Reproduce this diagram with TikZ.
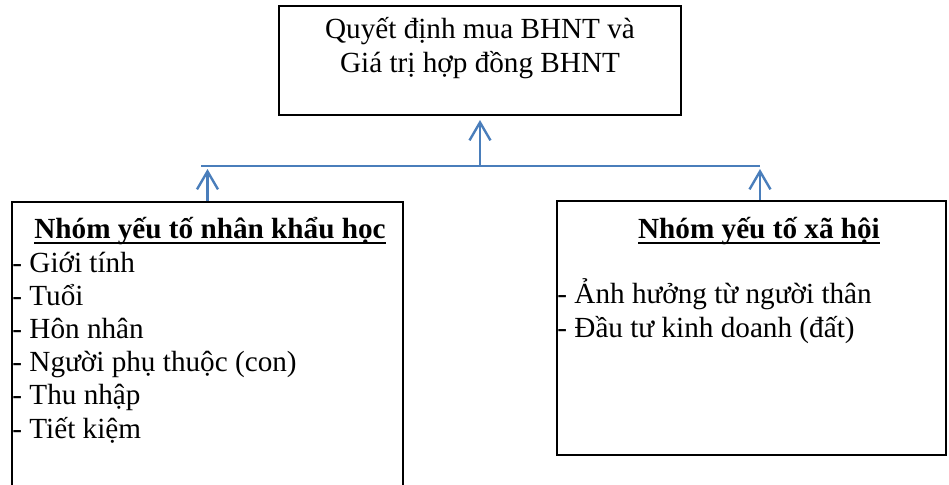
\documentclass[tikz,border=0pt]{standalone}
\usepackage{fontspec}
\setmainfont{Liberation Serif}
\usetikzlibrary{arrows.meta}
\definecolor{linkblue}{RGB}{74,126,187}
\newcommand{\headline}[1]{\setbox0\hbox{\bfseries #1}\rlap{\rule[-3pt]{\wd0}{1.2pt}}\box0}

\begin{document}
\begin{tikzpicture}[x=0.5pt,y=-0.5pt,
  box/.style={draw,line width=1pt,inner sep=0pt},
  txt/.style={inner sep=0pt,font=\fontsize{14.6}{16.6}\selectfont},
  arr/.style={draw=linkblue,line width=1.2pt,-{Straight Barb[length=9pt,width=10.5pt]}}]
  \clip (0,0) rectangle (949,484);
  % boxes
  \node[box,minimum width=201pt,minimum height=54.5pt] (goal) at (480,60.5) {};
  \node[box,minimum width=195.5pt,minimum height=159pt] (demo) at (207.5,361) {};
  \node[box,minimum width=194.5pt,minimum height=127pt] (soc) at (751.5,328) {};
  % texts (base = last line)
  \node[txt,align=center,anchor=base] (goaltext) at (480,72)
    {Quyết định mua BHNT và\\Giá trị hợp đồng BHNT};
  \node[txt,anchor=base] (demotitle) at (210,238) {\headline{Nhóm yếu tố nhân khẩu học}};
  \node[txt,align=left,anchor=base west] (demolist) at (12,438)
    {- Giới tính\\- Tuổi\\- Hôn nhân\\- Người phụ thuộc (con)\\- Thu nhập\\- Tiết kiệm};
  \node[txt,anchor=base] (soctitle) at (759,238) {\headline{Nhóm yếu tố xã hội}};
  \node[txt,align=left,anchor=base west] (soclist) at (557,337)
    {- Ảnh hưởng từ người thân\\- Đầu tư kinh doanh (đất)};
  % connectors
  \coordinate (jl) at (201,166);
  \coordinate (jc) at (480,166);
  \coordinate (jr) at (760,166);
  \draw[linkblue,line width=1pt] (jl) -- (jr);
  \draw[arr,shorten >=2pt] (jc) -- (goal.south);
  \draw[arr,shorten >=1.5pt] (demo.north) -- (demo.north |- jl);
  \draw[arr,shorten >=1.5pt] (soc.north -| jr) -- (jr);
\end{tikzpicture}
\end{document}
